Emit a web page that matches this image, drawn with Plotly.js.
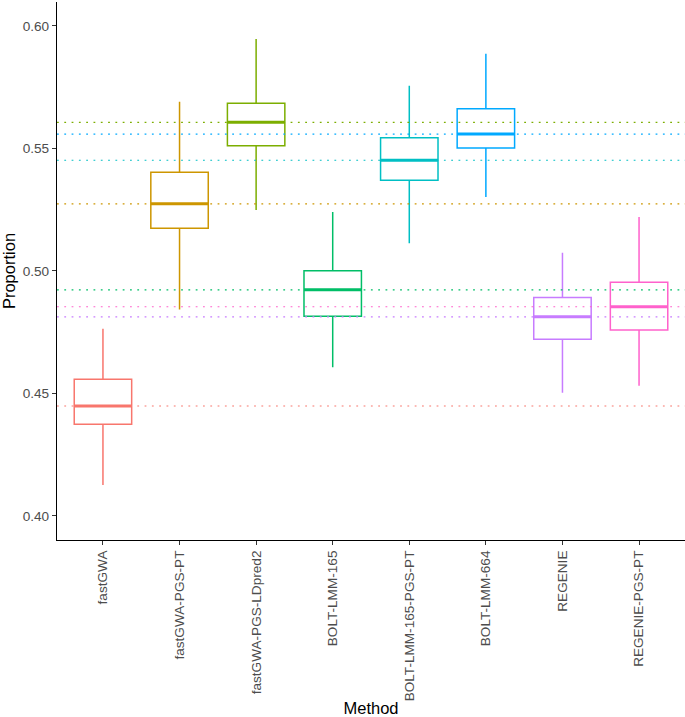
<!DOCTYPE html>
<html>
<head>
<meta charset="utf-8">
<script src="https://cdn.plot.ly/plotly-3.0.1.min.js"></script>
<style>html,body{margin:0;padding:0;background:#fff;}#chart{width:685px;height:717px;}</style>
</head>
<body>
<div id="chart"></div>
<script>
// Categories (methods)
const methods = ["fastGWA", "fastGWA-PGS-PT", "fastGWA-PGS-LDpred2", "BOLT-LMM-165",
                 "BOLT-LMM-165-PGS-PT", "BOLT-LMM-664", "REGENIE", "REGENIE-PGS-PT"];
// Box statistics
const lowerWhisker = [0.4125, 0.4842, 0.5248, 0.4606, 0.5112, 0.5301, 0.4502, 0.4531];
const q1Values     = [0.4373, 0.5174, 0.5510, 0.4814, 0.5369, 0.5501, 0.4720, 0.4758];
const medianValues = [0.4448, 0.5273, 0.5606, 0.4922, 0.5451, 0.5558, 0.4812, 0.4853];
const q3Values     = [0.4557, 0.5402, 0.5684, 0.5000, 0.5543, 0.5661, 0.4891, 0.4953];
const upperWhisker = [0.4763, 0.5690, 0.5946, 0.5240, 0.5755, 0.5886, 0.5073, 0.5219];
// ggplot2 hue palette
const colors = ["#F8766D", "#CD9600", "#7CAE00", "#00BE67", "#00BFC4", "#00A9FF", "#C77CFF", "#FF61CC"];

const yTicks = [0.40, 0.45, 0.50, 0.55, 0.60];

const traces = [];
methods.forEach((m, i) => {
  traces.push({
    type: "box",
    x: [m],
    q1: [q1Values[i]], median: [medianValues[i]], q3: [q3Values[i]],
    lowerfence: [lowerWhisker[i]], upperfence: [upperWhisker[i]],
    boxpoints: false,
    whiskerwidth: 0,
    width: 0.75,
    fillcolor: "#FFFFFF",
    line: {color: colors[i], width: 1.5},
    hoverinfo: "skip",
    showlegend: false
  });
});
// thicker median bars
methods.forEach((m, i) => {
  traces.push({
    type: "box",
    x: [m],
    q1: [medianValues[i]], median: [medianValues[i]], q3: [medianValues[i]],
    lowerfence: [medianValues[i]], upperfence: [medianValues[i]],
    boxpoints: false,
    whiskerwidth: 0,
    width: 0.75,
    fillcolor: "rgba(0,0,0,0)",
    line: {color: colors[i], width: 3},
    hoverinfo: "skip",
    showlegend: false
  });
});

const shapes = medianValues.map((v, i) => ({
  type: "line", xref: "x domain", yref: "y",
  x0: 0, x1: 1, y0: v, y1: v,
  line: {color: colors[i], width: 1.2, dash: "1.8px,5.5px"},
  layer: "above"
}));

const font = "'Liberation Sans', Arial, Helvetica, sans-serif";

const layout = {
  width: 685, height: 717,
  margin: {l: 57, r: 0, t: 2, b: 177, pad: 0},
  paper_bgcolor: "#FFFFFF", plot_bgcolor: "#FFFFFF",
  font: {family: font},
  boxmode: "overlay",
  showlegend: false,
  shapes: shapes,
  xaxis: {
    type: "category",
    categoryorder: "array", categoryarray: methods,
    range: [-0.6, 7.6],
    showgrid: false, zeroline: false,
    showline: true, linecolor: "#000000", linewidth: 1.1,
    ticks: "outside", ticklen: 4, tickcolor: "#333333", tickwidth: 1,
    tickangle: -90,
    tickfont: {family: font, size: 13.6, color: "#4D4D4D"},
    title: {text: "Method", font: {family: font, size: 16.5, color: "#000000"}, standoff: 8},
    automargin: false
  },
  yaxis: {
    range: [0.3901, 0.6097],
    tickvals: yTicks,
    ticktext: yTicks.map(v => v.toFixed(2)),
    showgrid: false, zeroline: false,
    showline: true, linecolor: "#000000", linewidth: 1.1,
    ticks: "outside", ticklen: 4, tickcolor: "#333333", tickwidth: 1,
    tickfont: {family: font, size: 13.6, color: "#4D4D4D"},
    title: {text: "Proportion", font: {family: font, size: 16.5, color: "#000000"}, standoff: 6},
    automargin: false
  }
};

Plotly.newPlot("chart", traces, layout, {staticPlot: true, displayModeBar: false});
</script>
</body>
</html>
